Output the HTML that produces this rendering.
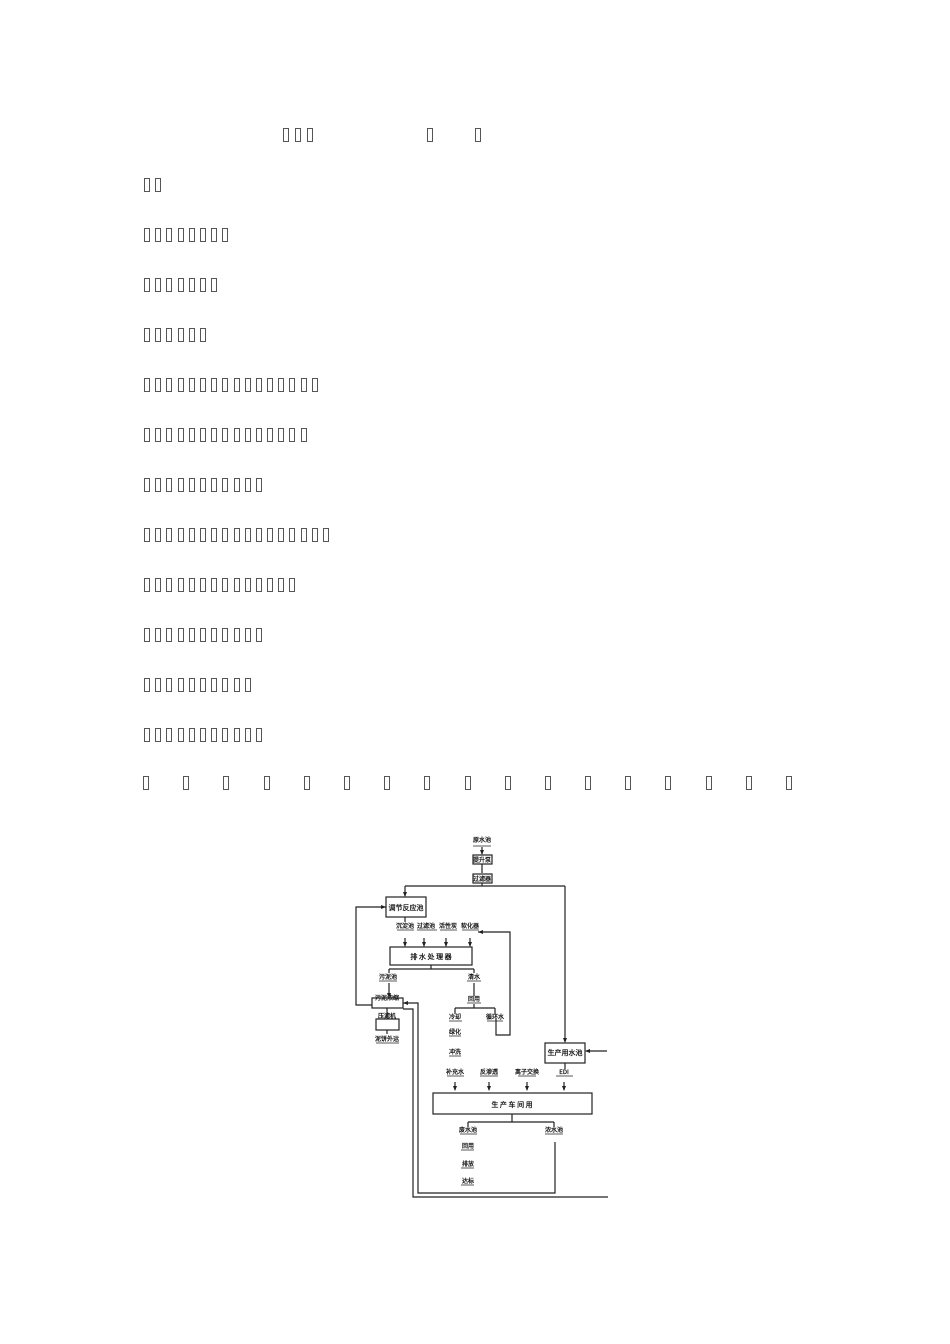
<!DOCTYPE html>
<html><head><meta charset="utf-8">
<style>
html,body{margin:0;padding:0;background:#fff;}
body{width:950px;height:1344px;position:relative;overflow:hidden;font-family:"Liberation Sans","Noto Sans CJK SC",sans-serif;}
.r{position:absolute;height:14px;white-space:nowrap;font-size:0;}
.r span{display:inline-block;width:4px;height:12px;border:1px solid #555;margin-right:5.2px;color:transparent;font-size:4px;overflow:hidden;vertical-align:top;}
.b{position:absolute;width:4px;height:12px;border:1px solid #555;color:transparent;font-size:4px;overflow:hidden;}
svg{position:absolute;left:0;top:0;}
</style></head><body>
<div class="r" style="left:283px;top:128px"><span style="margin-right:6px">▯</span><span style="margin-right:6px">▯</span><span>▯</span></div>
<div class="b" style="left:427px;top:128px">▯</div>
<div class="b" style="left:475px;top:128px">▯</div>
<div id="rows"></div>
<div class="r" style="left:143px;top:776px" id="last"></div>
<svg width="950" height="1344" viewBox="0 0 950 1344" fill="none" stroke="#222" stroke-width="1.2" font-family="Noto Sans CJK SC, sans-serif" font-size="6">
<g fill="#111" stroke="#111" stroke-width="0.25" font-size="6" text-anchor="middle">
<text x="482" y="842">原水池</text>
<text x="482" y="862">提升泵</text>
<text x="482" y="881">过滤器</text>
<text x="406" y="910" font-size="7">调节反应池</text>
<text x="405" y="928">沉淀池</text><text x="426" y="928">过滤池</text><text x="448" y="928">活性炭</text><text x="470" y="928">软化器</text>
<text x="431" y="959" font-size="7">排  水  处  理  器</text>
<text x="388" y="979">污泥池</text><text x="474" y="979">清水</text>
<text x="474" y="1001">回用</text>
<text x="387" y="1000">污泥浓缩</text>
<text x="387" y="1018">压滤机</text>
<text x="387" y="1041">泥饼外运</text>
<text x="455" y="1019">冷却</text><text x="495" y="1019">循环水</text>
<text x="455" y="1034">绿化</text><text x="455" y="1054">冲洗</text><text x="455" y="1074">补充水</text>
<text x="565" y="1055" font-size="7">生产用水池</text>
<text x="489" y="1074">反渗透</text><text x="527" y="1074">离子交换</text><text x="564" y="1074">EDI</text>
<text x="512" y="1107" font-size="7">生    产    车    间    用</text>
<text x="468" y="1132">废水池</text><text x="554" y="1132">浓水池</text>
<text x="468" y="1148">回用</text><text x="468" y="1166">排放</text><text x="468" y="1183">达标</text>
</g>
<g stroke-width="0.8">
<path d="M473 846h18M397 930h17M417 930h20M440 930h17M462 930h17M379 981h18M467 981h14M467 1003h14M449 1021h13M487 1021h16M449 1036h12M449 1056h12M447 1076h17M480 1076h18M518 1076h18M556 1076h17M460 1134h17M545 1134h18M461 1150h13M461 1168h13M461 1185h13M376 1043h23"/>
</g>
<rect x="473" y="855" width="19" height="9"/>
<rect x="473" y="874" width="19" height="9"/>
<path d="M482 847v7M482 864v9M482 883v3M405 886h160M405 886v10M565 886v156"/>
<rect x="386" y="897" width="40" height="20"/>
<path d="M386 907h-30v98h16M380 907h6"/>
<path d="M405 917v5M405 938v8M424 938v8M446 938v8M470 938v8"/>
<rect x="390" y="947" width="82" height="18"/>
<path d="M478 932h32v103h-14v-17"/>
<path d="M431 965v4M389 969h85M389 969v4M474 969v4M389 983v14M474 983v13M474 1004v4M455 1008h40M455 1008v6M495 1008v6"/>
<rect x="372" y="998" width="31" height="10"/>
<rect x="376" y="1019" width="23" height="11"/>
<path d="M387 1008v10M387 1030v4"/>
<path d="M403 1003h15v190h137v-51M403 1009h10v188h195"/>
<rect x="545" y="1043" width="40" height="20"/>
<path d="M607 1051h-21M565 1063v6"/>
<path d="M455 1082v8M489 1082v8M527 1082v8M564 1082v8"/>
<rect x="433" y="1093" width="159" height="21"/>
<path d="M512 1114v8M468 1122h86M468 1122v5M554 1122v5"/>
<g fill="#222" stroke="none">
<path d="M482 855l-2-5h4z M405 897l-2-5h4z M565 1043l-2-5h4z M386 907l-5-2v4z M405 947l-2-5h4z M424 947l-2-5h4z M446 947l-2-5h4z M470 947l-2-5h4z M478 932l5-2v4z M389 998l-2-5h4z M403 1003l5-2v4z M585 1051l5-2v4z M455 1091l-2-5h4z M489 1091l-2-5h4z M527 1091l-2-5h4z M564 1091l-2-5h4z"/>
</g>
</svg>
<script>
var counts=[2,8,7,6,16,15,11,17,14,11,10,11];
var h='';
for(var i=0;i<counts.length;i++){
 h+='<div class="r" style="left:144px;top:'+(178+i*50)+'px">';
 for(var j=0;j<counts[i];j++)h+='<span>▯</span>';
 h+='</div>';
}
document.getElementById('rows').innerHTML=h;
var l='';
for(var k=0;k<17;k++)l+='<span style="margin-right:34.2px">▯</span>';
document.getElementById('last').innerHTML=l;
</script>
</body></html>
